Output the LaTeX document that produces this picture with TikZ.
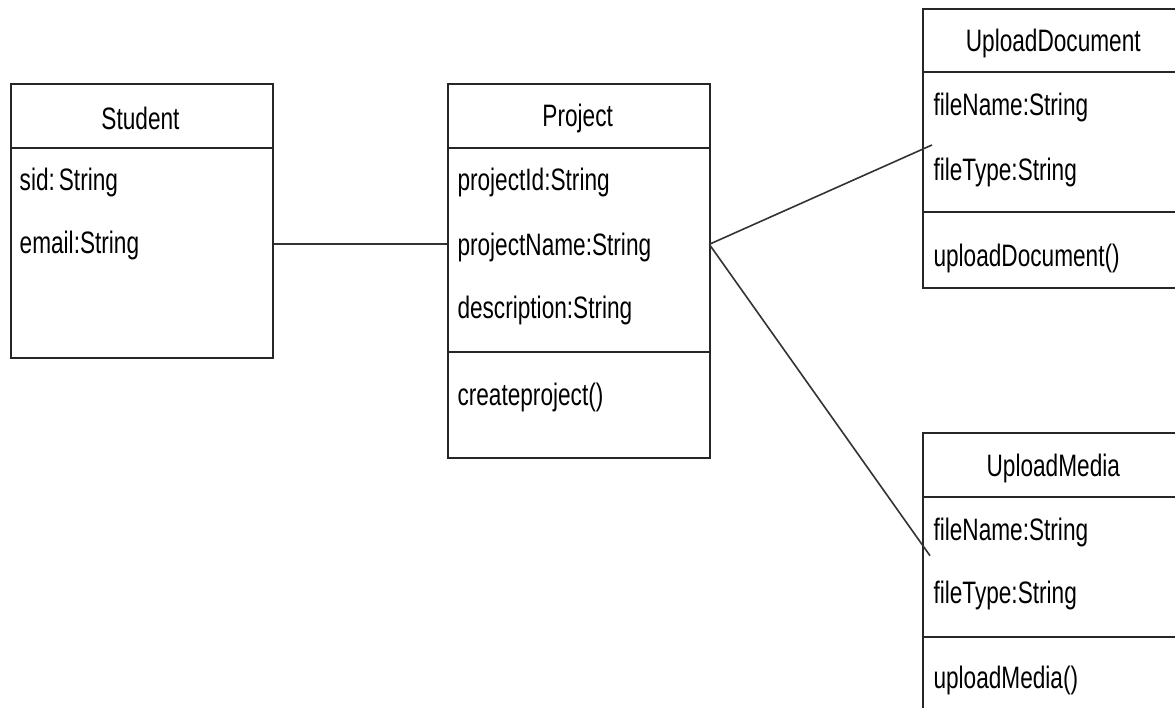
\documentclass[tikz,border=0pt]{standalone}
\usepackage{fontspec}
\setmainfont[FakeStretch=0.73]{Liberation Sans}
\begin{document}
\begin{tikzpicture}[x=1pt,y=-1pt,
  classbox/.style={draw=black!85, line width=2pt, rectangle, anchor=north west, inner sep=0pt, minimum width=262pt},
  divider/.style={draw=black!85, line width=2pt},
  title/.style={font=\fontsize{31}{36}\selectfont, text=black, inner sep=0pt},
  attr/.style={font=\fontsize{31}{36}\selectfont, text=black, anchor=west, inner sep=0pt},
  conn/.style={draw=black!80, line width=1.6pt}]
\useasboundingbox (0,0) rectangle (1175,708);
\clip (0,0) rectangle (1175,708);
\fill[white] (0,0) rectangle (1175,708);
% Student
\node[classbox, minimum height=274pt] (student) at (9.5,82.7) {};
\draw[divider] (9.5,148) -- (271.5,148);
\node[title] (studentT) at (140.5,118) {Student};
\node[attr] (sid) at (19.5,182) {sid:\hspace{4pt}String};
\node[attr] (email) at (19.5,245) {email:String};
% Project
\node[classbox, minimum height=374.6pt] (project) at (446.7,82.7) {};
\draw[divider] (446.7,148) -- (708.7,148);
\draw[divider] (446.7,352) -- (708.7,352);
\node[title] (projectT) at (577.7,118) {Project};
\node[attr] (pid) at (457.3,182) {projectId:String};
\node[attr] (pname) at (457.3,247) {projectName:String};
\node[attr] (pdesc) at (457.3,310.5) {description:String};
\node[attr] (pcreate) at (457.3,397) {createproject()};
% UploadDocument
\node[classbox, minimum height=279pt] (updoc) at (922.3,8.3) {};
\draw[divider] (922.3,71.7) -- (1184.3,71.7);
\draw[divider] (922.3,212.3) -- (1184.3,212.3);
\node[title] (updocT) at (1053.3,43.5) {UploadDocument};
\node[attr] (dfname) at (933.3,107) {fileName:String};
\node[attr] (dftype) at (933.3,172) {fileType:String};
\node[attr] (dup) at (933.3,258.5) {uploadDocument()};
% UploadMedia
\node[classbox, minimum height=300pt] (upmed) at (922.3,431.7) {};
\draw[divider] (922.3,496.7) -- (1184.3,496.7);
\draw[divider] (922.3,636.7) -- (1184.3,636.7);
\node[title] (upmedT) at (1053.3,468.5) {UploadMedia};
\node[attr] (mfname) at (933.3,532) {fileName:String};
\node[attr] (mftype) at (933.3,595.5) {fileType:String};
\node[attr] (mup) at (933.3,680.5) {uploadMedia()};
% connectors
\coordinate (pr) at (709.3,244.3);
\coordinate (docend) at (932,145);
\coordinate (medend) at (930,555.7);
\draw[conn] (student.east |- pr) -- (project.west |- pr);
\draw[conn] (pr) -- (docend);
\draw[conn] (pr) -- (medend);
\end{tikzpicture}
\end{document}
